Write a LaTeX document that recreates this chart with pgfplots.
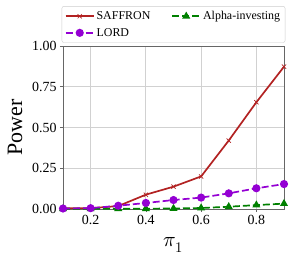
\documentclass[border=0pt]{standalone}
\usepackage{pgfplots}
\pgfplotsset{compat=1.18}
\usepackage{fontspec}
\setmainfont{Liberation Serif}
\usepackage{unicode-math}
\setmathfont{Latin Modern Math}
\definecolor{saff}{HTML}{B22222}
\definecolor{lord}{HTML}{9400D3}
\definecolor{alph}{HTML}{008000}
\begin{document}
\begin{tikzpicture}
\begin{axis}[
  name=ax,
  scale only axis,
  width=221bp, height=163bp,
  xmin=0.1, xmax=0.9, ymin=0, ymax=1,
  xtick={0.2,0.4,0.6,0.8},
  ytick={0,0.25,0.5,0.75,1},
  xticklabels={0.2,0.4,0.6,0.8},
  yticklabels={0.00,0.25,0.50,0.75,1.00},
  tick label style={font=\fontsize{14}{16}\selectfont},
  grid=major,
  grid style={black!18, line width=0.8pt},
  axis line style={black!60, line width=0.8pt},
  tick align=outside,
  major tick length=3bp,
  tick style={black!60, line width=0.6pt},
  xtick pos=bottom, ytick pos=left,
  xlabel={$\pi_1$},
  ylabel={Power},
  xlabel style={font=\fontsize{21}{23}\selectfont, yshift=-6bp},
  ylabel style={font=\fontsize{22}{24}\selectfont, yshift=3bp},
  legend columns=2,
  legend style={at={(0.5,1.02)}, anchor=south, font=\fontsize{12}{13}\selectfont,
    draw=black!20, rounded corners=2pt, fill=white,
    /tikz/every even column/.append style={column sep=19bp},
    inner xsep=3bp, inner ysep=3bp, row sep=3bp},
  legend image code/.code={%
    \draw[mark repeat=2,mark phase=2] plot coordinates {(0bp,0bp)(14bp,0bp)(28bp,0bp)};},
  legend cell align=left,
  clip=false,
]
\addplot[saff, line width=1.7pt, mark=x, mark size=3pt, mark options={line width=0.7pt}]
  coordinates {(0.1,0.005)(0.2,0.005)(0.3,0.018)(0.4,0.088)(0.5,0.137)(0.6,0.200)(0.7,0.420)(0.8,0.655)(0.9,0.873)};
\addlegendentry{SAFFRON}
\addplot[alph, line width=1.7pt, dash pattern=on 7bp off 3bp, mark=triangle*, mark size=3pt, mark options={solid}]
  coordinates {(0.1,0.001)(0.2,0.001)(0.3,0.002)(0.4,0.002)(0.5,0.003)(0.6,0.006)(0.7,0.014)(0.8,0.024)(0.9,0.033)};
\addlegendentry{Alpha-investing}
\addplot[lord, line width=1.7pt, dash pattern=on 7bp off 3bp, mark=*, mark size=3.2pt, mark options={solid}]
  coordinates {(0.1,0.003)(0.2,0.005)(0.3,0.020)(0.4,0.037)(0.5,0.055)(0.6,0.070)(0.7,0.096)(0.8,0.127)(0.9,0.153)};
\addlegendentry{LORD}
\end{axis}
\pgfresetboundingbox
\path[use as bounding box] ([xshift=-63bp,yshift=-51bp]ax.south west) rectangle ([xshift=7bp,yshift=46bp]ax.north east);
\end{tikzpicture}
\end{document}
